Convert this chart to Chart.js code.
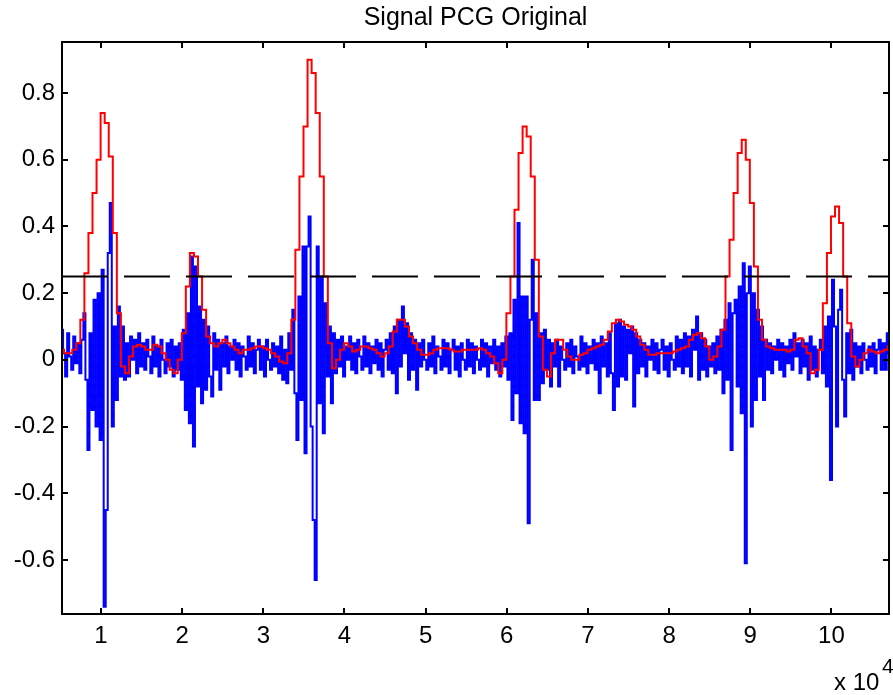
<!DOCTYPE html>
<html>
<head>
<meta charset="utf-8">
<title>Signal PCG Original</title>
<script src="https://cdn.jsdelivr.net/npm/chart.js@4.4.1/dist/chart.umd.min.js"></script>
<style>
  html, body { margin: 0; padding: 0; background: #fff; }
  #wrap { width: 893px; height: 695px; }
</style>
</head>
<body>
<div id="wrap"><canvas id="pcgChart" width="893" height="695"></canvas></div>
<script>
// x axis is in samples, tick labels are shown in units of 10^4
const sampleStart = 5200;
const signalStep = 250;
const envelopeStep = 500;
const xMin = 5190;
const xMax = 107100;
const yMin = -0.762;
const yMax = 0.953;
const xTickValues = [10000, 20000, 30000, 40000, 50000, 60000, 70000, 80000, 90000, 100000];
const yTickValues = [-0.6, -0.4, -0.2, 0, 0.2, 0.4, 0.6, 0.8];
const thresholdLevel = 0.25;

// PCG signal (blue)
const pcgSignal = [
  0.09, 0.02, -0.05, 0.08, 0.01, -0.03, 0.07, -0.01, 0.05, -0.04,
  0.06, 0.14, -0.06, -0.27, 0.08, -0.15, 0.18, -0.20, 0.20, -0.24,
  0.27, -0.74, -0.45, 0.32, 0.47, -0.20, 0.10, -0.12, 0.16, -0.05,
  0.10, -0.06, 0.05, -0.05, 0.07, 0.00, 0.06, -0.04, 0.08, -0.02,
  0.05, -0.03, 0.06, 0.01, -0.04, 0.07, -0.02, 0.04, -0.05, 0.06,
  0.00, -0.04, 0.05, -0.02, 0.06, -0.05, 0.04, -0.03, 0.05, -0.06,
  0.09, -0.15, 0.14, -0.19, 0.31, -0.26, 0.28, -0.08, 0.16, -0.13,
  0.12, -0.09, 0.10, -0.05, -0.11, 0.08, -0.03, 0.06, -0.09, 0.05,
  -0.02, 0.07, -0.04, 0.04, 0.00, 0.06, -0.03, 0.05, -0.05, 0.04,
  0.01, -0.03, 0.07, -0.02, 0.05, -0.04, 0.03, 0.06, -0.03, 0.04,
  -0.05, 0.06, 0.00, -0.03, 0.05, -0.02, 0.04, -0.04, 0.07, -0.06,
  0.03, -0.07, 0.08, -0.03, 0.15, -0.10, -0.24, 0.19, -0.12, 0.34,
  -0.28, 0.34, 0.43, -0.20, -0.48, -0.66, 0.34, -0.13, 0.25, -0.22,
  0.17, -0.05, 0.10, -0.13, 0.08, -0.04, 0.06, -0.02, 0.07, -0.05,
  0.04, 0.00, 0.07, -0.03, 0.05, -0.04, 0.06, 0.01, -0.03, 0.07,
  -0.02, 0.05, -0.04, 0.04, -0.01, 0.06, -0.03, 0.05, -0.05, 0.03,
  0.06, -0.03, 0.08, -0.04, 0.10, -0.10, 0.12, -0.02, 0.16, 0.02,
  0.11, -0.06, 0.08, -0.03, 0.06, -0.09, 0.05, -0.02, 0.06, 0.00,
  -0.03, 0.05, -0.02, 0.07, -0.04, 0.04, 0.01, -0.03, 0.06, -0.02,
  0.05, -0.04, 0.03, 0.06, -0.03, 0.04, -0.05, 0.05, 0.00, -0.03,
  0.06, -0.02, 0.05, -0.04, 0.04, 0.00, -0.03, 0.06, -0.02, 0.05,
  -0.05, 0.04, -0.01, 0.06, -0.03, 0.04, -0.05, 0.05, -0.02, 0.07,
  -0.06, 0.08, -0.18, 0.18, -0.10, 0.41, -0.19, 0.19, -0.22, 0.19,
  -0.49, 0.12, 0.30, -0.12, 0.14, -0.12, 0.08, -0.07, 0.09, -0.03,
  0.06, -0.08, 0.05, -0.02, 0.06, -0.08, 0.04, 0.00, -0.03, 0.05,
  -0.02, 0.06, -0.04, 0.04, 0.01, -0.03, 0.07, -0.02, 0.05, -0.04,
  0.04, -0.01, 0.06, -0.03, 0.05, -0.10, 0.07, -0.02, 0.05, -0.05,
  0.08, -0.04, -0.15, 0.11, -0.08, 0.12, -0.05, 0.10, -0.06, 0.09,
  0.02, 0.10, -0.14, 0.08, -0.04, 0.06, -0.02, 0.05, -0.05, 0.04,
  0.00, 0.06, -0.03, 0.05, -0.04, 0.03, 0.06, -0.03, 0.04, -0.05,
  0.05, 0.00, -0.03, 0.07, -0.02, 0.06, -0.04, 0.08, -0.02, 0.07,
  -0.05, 0.09, 0.03, 0.13, -0.06, 0.08, -0.03, 0.06, -0.05, 0.04,
  -0.02, 0.05, -0.04, 0.07, -0.03, 0.09, -0.10, 0.12, -0.06, 0.17,
  -0.27, 0.14, 0.18, -0.08, 0.22, -0.16, 0.29, -0.61, 0.20, 0.28,
  -0.20, 0.20, -0.12, 0.15, -0.05, 0.10, -0.12, 0.06, -0.03, 0.05,
  -0.04, 0.04, 0.00, 0.06, -0.03, 0.05, -0.05, 0.04, -0.01, 0.06,
  -0.03, 0.08, 0.01, 0.05, -0.04, 0.06, -0.02, 0.05, -0.06, 0.07,
  -0.03, 0.04, -0.05, 0.03, 0.06, -0.04, 0.10, -0.08, 0.13, -0.36,
  0.24, 0.10, -0.20, 0.15, 0.21, -0.06, -0.17, 0.08, -0.04, 0.09,
  -0.06, 0.05, -0.02, 0.04, -0.04, 0.05, 0.00, -0.03, 0.04, -0.02,
  0.05, -0.04, 0.03, 0.06, -0.03, 0.05, -0.03, 0.08, 0.02
];

// envelope (red)
const envelope = [
  0.03, 0.02, 0.02, 0.03, 0.05, 0.12, 0.26, 0.38, 0.50, 0.60,
  0.74, 0.71, 0.61, 0.38, 0.14, -0.02, -0.04, 0.01, 0.04, 0.045,
  0.04, 0.03, 0.03, 0.045, 0.04, 0.02, 0.00, -0.03, -0.04, 0.00,
  0.08, 0.22, 0.32, 0.31, 0.25, 0.15, 0.07, 0.05, 0.04, 0.05,
  0.06, 0.05, 0.04, 0.03, 0.02, 0.03, 0.03, 0.035, 0.04, 0.04,
  0.035, 0.03, 0.02, 0.01, -0.005, -0.01, 0.02, 0.12, 0.33, 0.55,
  0.70, 0.90, 0.86, 0.74, 0.55, 0.25, 0.05, -0.025, 0.00, 0.03,
  0.05, 0.04, 0.025, 0.03, 0.04, 0.04, 0.035, 0.03, 0.02, 0.01,
  0.02, 0.04, 0.085, 0.12, 0.12, 0.10, 0.07, 0.05, 0.03, 0.015,
  0.015, 0.02, 0.03, 0.035, 0.035, 0.035, 0.03, 0.025, 0.025, 0.03,
  0.03, 0.03, 0.03, 0.035, 0.03, 0.02, 0.01, -0.01, -0.04, 0.00,
  0.14, 0.25, 0.45, 0.62, 0.70, 0.67, 0.55, 0.30, 0.07, -0.03,
  -0.05, 0.02, 0.06, 0.06, 0.03, 0.01, 0.00, 0.00, 0.015, 0.02,
  0.03, 0.035, 0.04, 0.045, 0.06, 0.085, 0.11, 0.12, 0.115, 0.105,
  0.10, 0.09, 0.07, 0.045, 0.03, 0.015, 0.015, 0.02, 0.02, 0.02,
  0.02, 0.025, 0.03, 0.035, 0.04, 0.06, 0.075, 0.08, 0.065, 0.04,
  0.00, 0.01, 0.04, 0.09, 0.25, 0.36, 0.50, 0.62, 0.66, 0.60,
  0.47, 0.28, 0.12, 0.06, 0.04, 0.035, 0.03, 0.03, 0.03, 0.025,
  0.03, 0.06, 0.065, 0.04, 0.02, -0.04, -0.03, 0.03, 0.17, 0.32,
  0.43, 0.46, 0.41, 0.25, 0.11, 0.01, -0.02, 0.00, 0.02, 0.03,
  0.025, 0.02, 0.025, 0.03, 0.04
];

const FONT = '"Liberation Sans", Arial, Helvetica, sans-serif';

function toPoints(values, step) {
  return values.map((v, i) => ({ x: sampleStart + i * step, y: v }));
}

// MATLAB-like box with inward tick marks and the "x 10^4" exponent label
const matlabFrame = {
  id: 'matlabFrame',
  afterDraw(chart) {
    const { ctx, chartArea: a, scales } = chart;
    ctx.save();
    ctx.strokeStyle = '#000';
    ctx.lineWidth = 2;
    ctx.strokeRect(a.left, a.top, a.right - a.left, a.bottom - a.top);
    ctx.beginPath();
    xTickValues.forEach(v => {
      const px = Math.round(scales.x.getPixelForValue(v));
      ctx.moveTo(px, a.bottom); ctx.lineTo(px, a.bottom - 6);
      ctx.moveTo(px, a.top); ctx.lineTo(px, a.top + 6);
    });
    yTickValues.forEach(v => {
      const py = Math.round(scales.y.getPixelForValue(v));
      ctx.moveTo(a.left, py); ctx.lineTo(a.left + 6, py);
      ctx.moveTo(a.right, py); ctx.lineTo(a.right - 6, py);
    });
    ctx.stroke();
    ctx.fillStyle = '#000';
    ctx.textBaseline = 'alphabetic';
    ctx.textAlign = 'left';
    ctx.font = '24px ' + FONT;
    ctx.fillText('x 10', 834, 690);
    ctx.font = '21px ' + FONT;
    ctx.fillText('4', 882, 673);
    ctx.restore();
  }
};

new Chart(document.getElementById('pcgChart'), {
  type: 'line',
  data: {
    datasets: [
      {
        label: 'Threshold',
        data: [{ x: xMin, y: thresholdLevel }, { x: xMax, y: thresholdLevel }],
        borderColor: '#000',
        borderWidth: 2,
        borderDash: [46, 16],
        pointRadius: 0
      },
      {
        label: 'Envelope',
        data: toPoints(envelope, envelopeStep),
        borderColor: '#ff0000',
        borderWidth: 2,
        stepped: 'middle',
        pointRadius: 0
      },
      {
        label: 'Signal PCG',
        data: toPoints(pcgSignal, signalStep),
        borderColor: '#0000ff',
        borderWidth: 2,
        stepped: 'middle',
        pointRadius: 0
      }
    ]
  },
  options: {
    responsive: false,
    animation: false,
    layout: { padding: { left: 0, right: 4, top: 0, bottom: 0 } },
    plugins: {
      legend: { display: false },
      tooltip: { enabled: false },
      title: {
        display: true,
        fullSize: false,
        text: 'Signal PCG Original',
        color: '#000',
        font: { family: FONT, size: 25, weight: 'normal' },
        padding: { top: 3, bottom: 9 }
      }
    },
    scales: {
      x: {
        type: 'linear',
        min: xMin,
        max: xMax,
        grid: { display: false, drawTicks: false },
        border: { display: false },
        afterBuildTicks: scale => { scale.ticks = xTickValues.map(v => ({ value: v })); },
        afterFit: scale => { scale.height = 81; },
        ticks: {
          autoSkip: false,
          maxRotation: 0,
          padding: 8,
          color: '#000',
          font: { family: FONT, size: 24 },
          callback: v => String(v / 10000)
        }
      },
      y: {
        min: yMin,
        max: yMax,
        grid: { display: false, drawTicks: false },
        border: { display: false },
        afterBuildTicks: scale => { scale.ticks = yTickValues.map(v => ({ value: v })); },
        afterFit: scale => { scale.width = 62; },
        ticks: {
          padding: 7,
          color: '#000',
          font: { family: FONT, size: 24 },
          callback: v => String(Number(v.toFixed(1)))
        }
      }
    }
  },
  plugins: [matlabFrame]
});
</script>
</body>
</html>
